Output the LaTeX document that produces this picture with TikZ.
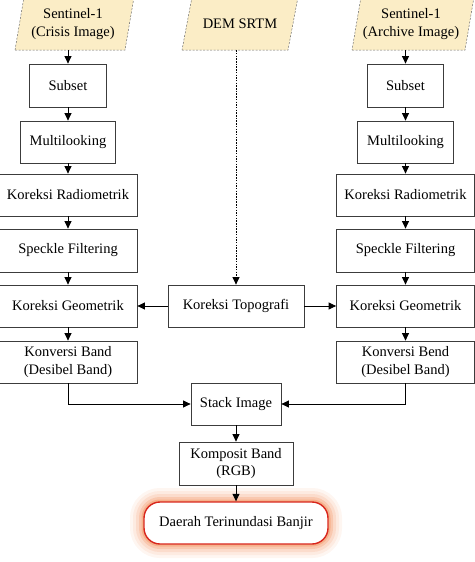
\documentclass[tikz,border=0pt]{standalone}
\usepackage{fontspec}
\setmainfont{Liberation Serif}
\usetikzlibrary{arrows.meta}
\definecolor{boxgray}{HTML}{3C3C3C}
\definecolor{parfill}{HTML}{FBEDC6}
\definecolor{pardash}{HTML}{6E6E6E}
\definecolor{glowc}{HTML}{F07A3C}
\definecolor{redline}{HTML}{D8261C}
\newcommand{\fs}{\fontsize{14.5}{17.5}\selectfont}
\begin{document}
\begin{tikzpicture}[x=1pt,y=-1pt,
  box/.style={draw=boxgray, line width=0.8pt, fill=white, minimum height=42pt,
    inner sep=2pt, font=\fs, align=center},
  wide/.style={box, minimum width=138pt},
  partext/.style={font=\fs, align=center, minimum height=52pt, inner sep=0pt},
  parshape/.style={fill=parfill, draw=pardash, line width=0.5pt, dash pattern=on 2pt off 1.5pt},
  arr/.style={draw=black, line width=0.8pt, -{Triangle[length=7.5pt,width=7pt]}},
  endbox/.style={box, draw=redline, line width=1.4pt, rounded corners=16pt,
    minimum width=184pt,
    preaction={draw=glowc, line width=28pt, opacity=0.07},
    preaction={draw=glowc, line width=22pt, opacity=0.09},
    preaction={draw=glowc, line width=16pt, opacity=0.13},
    preaction={draw=glowc, line width=10pt, opacity=0.2},
    preaction={draw=glowc, line width=5pt, opacity=0.3}}
]
\useasboundingbox (0,0) rectangle (474,562);

% input parallelograms
\draw[parshape] (15,50) -- (125,50) -- (134,-3) -- (24,-3) -- cycle;
\draw[parshape] (182,50) -- (288,50) -- (298,-3) -- (192,-3) -- cycle;
\draw[parshape] (352,50) -- (465,50) -- (474,-3) -- (361,-3) -- cycle;
\node[partext] (in1) at (73,24) {Sentinel-1\\(Crisis Image)};
\node[partext] (dem) at (240,24) {DEM SRTM};
\node[partext] (in2) at (411,24) {Sentinel-1\\(Archive Image)};

% left column
\node[box, minimum width=77pt, minimum height=43pt] (sub1) at (68,85.5) {Subset};
\node[box, minimum width=95pt] (ml1) at (68,142) {Multilooking};
\node[wide] (rad1) at (68,195) {Koreksi Radiometrik};
\node[wide, minimum height=43pt] (spk1) at (68,250.5) {Speckle Filtering};
\node[wide] (geo1) at (68,306) {Koreksi Geometrik};
\node[wide] (kon1) at (68,362) {Konversi Band\\(Desibel Band)};

% right column
\node[box, minimum width=76pt, minimum height=43pt] (sub2) at (405.5,85.5) {Subset};
\node[box, minimum width=96pt] (ml2) at (405.5,142) {Multilooking};
\node[wide] (rad2) at (405.5,195) {Koreksi Radiometrik};
\node[wide, minimum height=43pt] (spk2) at (405.5,250.5) {Speckle Filtering};
\node[wide] (geo2) at (405.5,306) {Koreksi Geometrik};
\node[wide] (kon2) at (405.5,362) {Konversi Bend\\(Desibel Band)};

% centre
\node[box, minimum width=136pt] (topo) at (236,306) {Koreksi Topografi};
\node[box, minimum width=90pt] (stack) at (236,404) {Stack Image};
\node[box, minimum width=114pt, minimum height=43pt] (komp) at (236,463.5) {Komposit Band\\(RGB)};
\node[endbox] (hasil) at (236,523) {Daerah Terinundasi Banjir};

% connectors
\draw[arr] (sub1.north |- in1.south) -- (sub1.north);
\draw[arr] (sub1) -- (ml1);
\draw[arr] (ml1) -- (rad1);
\draw[arr] (rad1) -- (spk1);
\draw[arr] (spk1) -- (geo1);
\draw[arr] (geo1) -- (kon1);
\draw[arr] (sub2.north |- in2.south) -- (sub2.north);
\draw[arr] (sub2) -- (ml2);
\draw[arr] (ml2) -- (rad2);
\draw[arr] (rad2) -- (spk2);
\draw[arr] (spk2) -- (geo2);
\draw[arr] (geo2) -- (kon2);
\draw[arr, dash pattern=on 1.5pt off 1.2pt] (topo.north |- dem.south) -- (topo.north);
\draw[arr] (topo.west) -- (geo1.east);
\draw[arr] (topo.east) -- (geo2.west);
\draw[arr] (kon1.south) |- (stack.west);
\draw[arr] (kon2.south) |- (stack.east);
\draw[arr] (stack) -- (komp);
\draw[arr] (komp) -- (hasil);
\end{tikzpicture}
\end{document}
